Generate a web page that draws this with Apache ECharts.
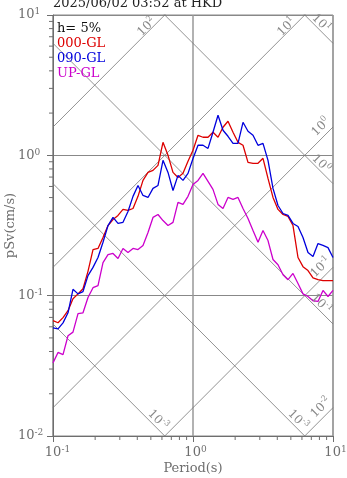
<!DOCTYPE html>
<html>
<head>
<meta charset="utf-8">
<script src="https://cdn.jsdelivr.net/npm/echarts@6/dist/echarts.min.js"></script>
<style>
html, body { margin: 0; padding: 0; background: #fff; }
#main { width: 347px; height: 478px; }
</style>
</head>
<body>
<div id="main"></div>
<script>
// periods (s)
var periods = [0.1, 0.1086, 0.1179, 0.128, 0.1389, 0.1509, 0.1638, 0.1778, 0.1931, 0.2096,
    0.2276, 0.2471, 0.2683, 0.2913, 0.3162, 0.3433, 0.3728, 0.4047, 0.4394, 0.4771,
    0.5179, 0.5623, 0.6105, 0.6629, 0.7197, 0.7814, 0.8483, 0.9211, 1.0, 1.086,
    1.179, 1.28, 1.389, 1.509, 1.638, 1.778, 1.931, 2.096, 2.276, 2.471,
    2.683, 2.913, 3.162, 3.433, 3.728, 4.047, 4.394, 4.771, 5.179, 5.623,
    6.105, 6.629, 7.197, 7.814, 8.483, 9.211, 10.0];

// pSv (cm/s)
var sv000 = [0.0663, 0.0641, 0.0697, 0.0781, 0.0952, 0.103, 0.112, 0.149, 0.213, 0.217,
    0.26, 0.316, 0.349, 0.373, 0.412, 0.405, 0.418, 0.51, 0.663, 0.756,
    0.781, 0.848, 1.238, 1.0, 0.756, 0.696, 0.744, 0.906, 1.086, 1.389,
    1.345, 1.345, 1.46, 1.345, 1.585, 1.75, 1.46, 1.238, 1.179, 0.891,
    0.877, 0.877, 0.952, 0.685, 0.501, 0.412, 0.379, 0.367, 0.316, 0.187,
    0.161, 0.151, 0.134, 0.13, 0.128, 0.128, 0.128];
var sv090 = [0.059, 0.058, 0.064, 0.0755, 0.111, 0.103, 0.107, 0.139, 0.159, 0.187,
    0.24, 0.316, 0.361, 0.327, 0.333, 0.398, 0.51, 0.61, 0.518, 0.501,
    0.581, 0.61, 0.921, 0.756, 0.562, 0.72, 0.663, 0.744, 0.95, 1.18,
    1.18, 1.12, 1.46, 1.931, 1.509, 1.367, 1.218, 1.218, 1.72, 1.484,
    1.389, 1.179, 1.218, 0.921, 0.581, 0.439, 0.385, 0.373, 0.327, 0.311,
    0.26, 0.203, 0.19, 0.235, 0.228, 0.22, 0.187];
var svUP = [0.0332, 0.0394, 0.038, 0.0518, 0.055, 0.0744, 0.0755, 0.097, 0.114, 0.118,
    0.172, 0.196, 0.2, 0.184, 0.217, 0.203, 0.217, 0.213, 0.228, 0.282,
    0.361, 0.379, 0.343, 0.316, 0.333, 0.462, 0.447, 0.51, 0.62, 0.663,
    0.744, 0.652, 0.572, 0.447, 0.418, 0.501, 0.485, 0.501, 0.418, 0.355,
    0.291, 0.24, 0.291, 0.247, 0.181, 0.166, 0.141, 0.13, 0.144, 0.122,
    0.103, 0.0986, 0.092, 0.091, 0.109, 0.0986, 0.109];

var seriesNames = ['000-GL', '090-GL', 'UP-GL'];
var seriesColors = ['#dd0000', '#0000dd', '#cc00cc'];

// tripartite guide lines: pseudo acceleration (cm/s2) and displacement (cm)
var accLines = [100, 10, 1, 0.1, 0.01];
var accLabels = ['2', '1', '0', '-1', '-2'];
var dispLines = [10, 1, 0.1, 0.01, 0.001];
var dispLabels = ['1', '0', '-1', '-3', '-3'];

// minor ticks (2..9 per decade)
var xMinor = [0.2, 0.3, 0.4, 0.5, 0.6, 0.7, 0.8, 0.9, 2, 3, 4, 5, 6, 7, 8, 9];
var yMinor = [0.02, 0.03, 0.04, 0.05, 0.06, 0.07, 0.08, 0.09,
    0.2, 0.3, 0.4, 0.5, 0.6, 0.7, 0.8, 0.9, 2, 3, 4, 5, 6, 7, 8, 9];

var X_MIN = 0.1, X_MAX = 10, Y_MIN = 0.01, Y_MAX = 10;
var TWO_PI = 2 * Math.PI;
var FONT = 'DejaVu Serif';
var AXIS_GRAY = '#6e6e6e';

var dom = document.getElementById('main');
var myChart = echarts.init(dom);

function zip(ys) {
    return periods.map(function (t, i) { return [t, ys[i]]; });
}

function expOf(v) {
    return Math.round(Math.log(v) / Math.LN10);
}

function accEnd(a) {
    var t = Y_MAX * TWO_PI / a;
    if (t <= X_MAX) return { pt: [t, Y_MAX], side: 'top' };
    return { pt: [X_MAX, a * X_MAX / TWO_PI], side: 'right' };
}
function dispEnd(d) {
    var sv = TWO_PI * d / X_MAX;
    if (sv >= Y_MIN) return { pt: [X_MAX, sv], side: 'right' };
    return { pt: [TWO_PI * d / Y_MIN, Y_MIN], side: 'bottom' };
}

// label offsets from line end (px)
var accOffset = { top: [-18, 12], right: [-12, 0] };
var dispOffset = { right: [-12, -20], bottom: [-7, -16] };

var diagLabels = [];
accLines.forEach(function (a, i) {
    var e = accEnd(a);
    diagLabels.push({ value: e.pt, off: accOffset[e.side], rot: 45, exp: accLabels[i] });
});
dispLines.forEach(function (d, i) {
    var e = dispEnd(d);
    diagLabels.push({ value: e.pt, off: dispOffset[e.side], rot: -45, exp: dispLabels[i] });
});

var guideSeries = [];
accLines.forEach(function (a) {
    guideSeries.push({
        type: 'line', silent: true, symbol: 'none', clip: true,
        lineStyle: { color: '#777', width: 0.8 },
        data: [[X_MIN, a * X_MIN / TWO_PI], [X_MAX, a * X_MAX / TWO_PI]]
    });
});
dispLines.forEach(function (d) {
    guideSeries.push({
        type: 'line', silent: true, symbol: 'none', clip: true,
        lineStyle: { color: '#777', width: 0.8 },
        data: [[X_MIN, TWO_PI * d / X_MIN], [X_MAX, TWO_PI * d / X_MAX]]
    });
});

var dataSeries = [sv000, sv090, svUP].map(function (ys, i) {
    return {
        name: seriesNames[i], type: 'line', symbol: 'none',
        lineStyle: { color: seriesColors[i], width: 1.3 },
        itemStyle: { color: seriesColors[i] },
        data: zip(ys), z: 5
    };
});

var labelSeries = {
    type: 'custom', silent: true, z: 6,
    data: diagLabels.map(function (d) { return d.value; }),
    renderItem: function (params, api) {
        var item = diagLabels[params.dataIndex];
        var p = api.coord(item.value);
        return {
            type: 'text',
            x: p[0] + item.off[0], y: p[1] + item.off[1],
            rotation: item.rot * Math.PI / 180,
            style: {
                text: '{b|10}{s|' + item.exp + '}',
                align: 'center', verticalAlign: 'middle',
                rich: {
                    b: { fontSize: 12, fontFamily: FONT, fill: '#888', lineHeight: 16 },
                    s: { fontSize: 8, fontFamily: FONT, fill: '#888', verticalAlign: 'top', lineHeight: 10 }
                }
            }
        };
    }
};

var xTickSeries = {
    type: 'custom', silent: true,
    data: xMinor.map(function (v) { return [v, Y_MIN]; }),
    renderItem: function (params, api) {
        var p = api.coord([api.value(0), api.value(1)]);
        return { type: 'line', shape: { x1: p[0], y1: p[1], x2: p[0], y2: p[1] + 4 },
            style: { stroke: AXIS_GRAY, lineWidth: 1 } };
    }
};
var yTickSeries = {
    type: 'custom', silent: true,
    data: yMinor.map(function (v) { return [X_MIN, v]; }),
    renderItem: function (params, api) {
        var p = api.coord([api.value(0), api.value(1)]);
        return { type: 'line', shape: { x1: p[0] - 4, y1: p[1], x2: p[0], y2: p[1] },
            style: { stroke: AXIS_GRAY, lineWidth: 1 } };
    }
};

var labelRich = {
    b: { fontSize: 13, fontFamily: FONT, color: AXIS_GRAY, lineHeight: 15 },
    s: { fontSize: 9, fontFamily: FONT, color: AXIS_GRAY, verticalAlign: 'top', lineHeight: 10 },
    g1: { width: 5 },
    g2: { width: 9 }
};

var legendTexts = [
    { text: 'h= 5%', color: '#111' },
    { text: seriesNames[0], color: seriesColors[0] },
    { text: seriesNames[1], color: seriesColors[1] },
    { text: seriesNames[2], color: seriesColors[2] }
];

option = {
    animation: false,
    backgroundColor: '#fff',
    title: {
        text: '2025/06/02 03:52 at HKD',
        left: 53, top: -3, padding: 0,
        textStyle: { fontFamily: FONT, fontSize: 13, fontWeight: 'normal', color: '#222' }
    },
    grid: {
        left: 53, right: 14, top: 15, bottom: 42,
        outerBoundsMode: 'none', containLabel: false,
        show: true, borderColor: '#888', borderWidth: 1
    },
    xAxis: {
        type: 'log', logBase: 10, min: X_MIN, max: X_MAX,
        name: 'Period(s)', nameLocation: 'middle', nameGap: 26, nameMoveOverlap: false,
        nameTextStyle: { fontFamily: FONT, fontSize: 13, color: AXIS_GRAY },
        axisLine: { show: true, lineStyle: { color: AXIS_GRAY } },
        axisTick: { show: true, length: 6, lineStyle: { color: AXIS_GRAY } },
        splitLine: { show: true, lineStyle: { color: '#999', width: 1.5 } },
        axisLabel: {
            margin: 9,
            formatter: function (v) {
                var e = String(expOf(v));
                return '{g' + e.length + '|}{b|10}{s|' + e + '}';
            },
            rich: labelRich
        }
    },
    yAxis: {
        type: 'log', logBase: 10, min: Y_MIN, max: Y_MAX,
        name: 'pSv(cm/s)', nameLocation: 'middle', nameGap: 36, nameMoveOverlap: false,
        nameTextStyle: { fontFamily: FONT, fontSize: 13, color: AXIS_GRAY },
        axisLine: { show: true, lineStyle: { color: AXIS_GRAY } },
        axisTick: { show: true, length: 6, lineStyle: { color: AXIS_GRAY } },
        splitLine: { show: true, lineStyle: { color: '#888', width: 1 } },
        axisLabel: {
            margin: 35, align: 'left',
            formatter: function (v) {
                return '{b|10}{s|' + expOf(v) + '}';
            },
            rich: labelRich
        }
    },
    graphic: legendTexts.map(function (t, i) {
        return {
            type: 'text', left: 57, top: 22 + i * 15, z: 10,
            style: { text: t.text, fill: t.color, font: '13px "' + FONT + '"' }
        };
    }),
    series: guideSeries.concat(dataSeries, [labelSeries, xTickSeries, yTickSeries])
};

if (option && typeof option === 'object') {
    myChart.setOption(option, true);
}
</script>
</body>
</html>
